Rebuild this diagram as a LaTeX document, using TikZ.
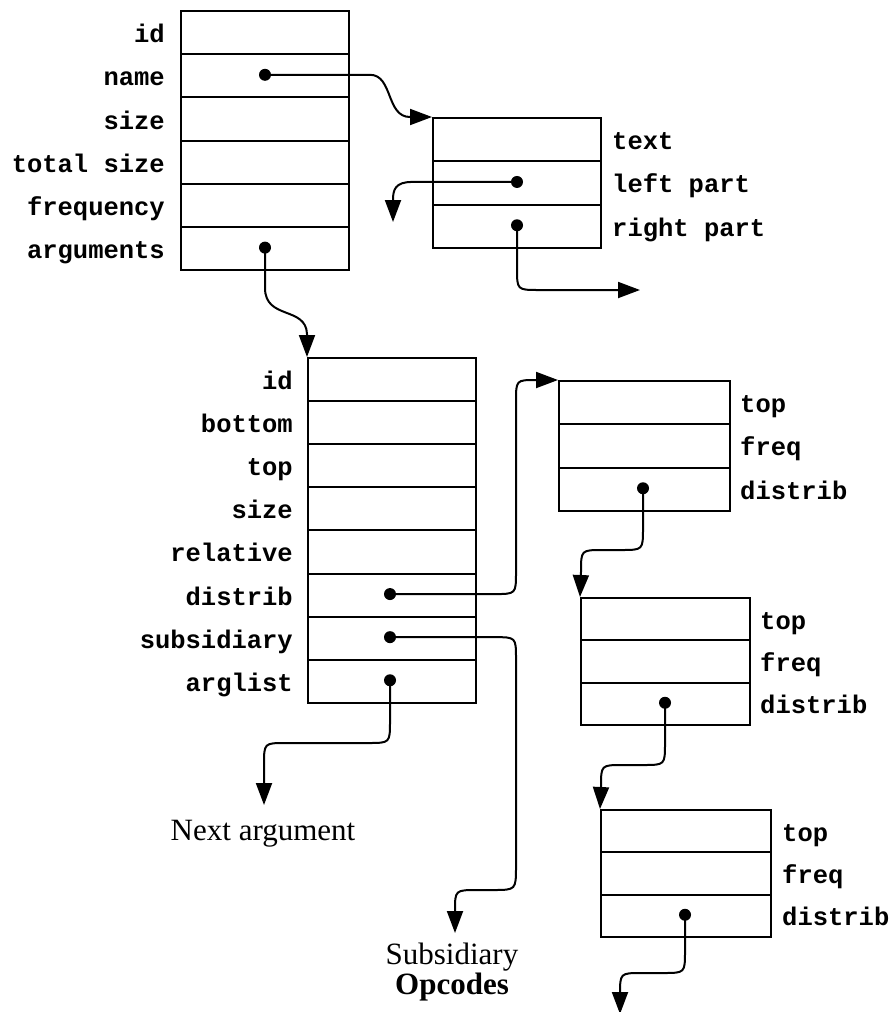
\documentclass[tikz,border=0pt]{standalone}
\usepackage{fontspec}
\setmainfont{Liberation Serif}
\newfontfamily\monof{Liberation Mono}
\usetikzlibrary{arrows.meta}
\begin{document}
\begin{tikzpicture}[x=1pt,y=-1pt,
  cell/.style={draw, line width=2pt, inner sep=0pt, anchor=north west},
  lab/.style={font=\monof\bfseries\fontsize{25.5}{25.5}\selectfont, inner sep=0pt},
  captxt/.style={font=\fontsize{31}{31}\selectfont, inner sep=0pt, anchor=base},
  dot/.style={circle, fill=black, inner sep=0pt, minimum size=12pt},
  conn/.style={line width=2pt, -{Triangle[length=22pt,width=16pt]}},
]
\useasboundingbox (0,0) rectangle (893,1012);

% Box A (top left)
\foreach \i/\t in {1/id,2/name,3/size,4/total size,5/frequency,6/arguments}{
  \node[cell, minimum width=168pt, minimum height=43.2pt] (a\i) at (180,{10+43.2*(\i-1)}) {};
  \node[lab, anchor=base east] (la\i) at (165,{10+43.2*(\i-0.5)+11}) {\t};
}
% Box B (name record)
\foreach \i/\t in {1/text,2/left part,3/right part}{
  \node[cell, minimum width=168pt, minimum height=43.3pt] (b\i) at (432,{117+43.3*(\i-1)}) {};
  \node[lab, anchor=base west] (lb\i) at (612,{117+43.3*(\i-0.5)+11}) {\t};
}
% Box C (argument record)
\foreach \i/\t in {1/id,2/bottom,3/top,4/size,5/relative,6/distrib,7/subsidiary,8/arglist}{
  \node[cell, minimum width=168pt, minimum height=43.1pt] (c\i) at (307,{357+43.1*(\i-1)}) {};
  \node[lab, anchor=base east] (lc\i) at (293,{357+43.1*(\i-0.5)+11}) {\t};
}
% Box D
\foreach \i/\t in {1/top,2/freq,3/distrib}{
  \node[cell, minimum width=171pt, minimum height=43.3pt] (d\i) at (558,{380+43.3*(\i-1)}) {};
  \node[lab, anchor=base west] (ld\i) at (740,{380+43.3*(\i-0.5)+11}) {\t};
}
% Box E
\foreach \i/\t in {1/top,2/freq,3/distrib}{
  \node[cell, minimum width=169pt, minimum height=42.3pt] (e\i) at (580,{597+42.3*(\i-1)}) {};
  \node[lab, anchor=base west] (le\i) at (760,{597+42.3*(\i-0.5)+11}) {\t};
}
% Box F
\foreach \i/\t in {1/top,2/freq,3/distrib}{
  \node[cell, minimum width=170pt, minimum height=42.3pt] (f\i) at (600,{809+42.3*(\i-1)}) {};
  \node[lab, anchor=base west] (lf\i) at (782,{809+42.3*(\i-0.5)+11}) {\t};
}

% dots
\node[dot] (pname) at (265,74.8) {};
\node[dot] (pargs) at (265,247.6) {};
\node[dot] (pleft) at (517,181.95) {};
\node[dot] (pright) at (517,225.25) {};
\node[dot] (pdist) at (390,594.05) {};
\node[dot] (psub) at (390,637.15) {};
\node[dot] (parg) at (390,680.25) {};
\node[dot] (pd) at (643,488.25) {};
\node[dot] (pe) at (665,702.75) {};
\node[dot] (pf) at (685,914.75) {};

% free ends
\coordinate (leftend) at (393,222);
\coordinate (rightend) at (640,290);
\coordinate (nextend) at (264,805);
\coordinate (subend) at (455,933);
\coordinate (fend) at (620,1014);

% captions
\node[captxt] (nexttxt) at (263,840) {Next argument};
\node[captxt] (subtxt1) at (452,964) {Subsidiary};
\node[captxt] (subtxt2) at (452,994) {\textbf{Opcodes}};

% connectors
\draw[conn] (pname.center) -- (370,74.8) .. controls (393,74.8) and (386,117) .. (410,117) -- (b1.north west);
\draw[conn] (pleft.center) -- (412,181.95) .. controls (395,181.95) and (393,190) .. (393,200) -- (leftend);
\draw[conn] (pright.center) -- (517,268) .. controls (517,290) .. (539,290) -- (rightend);
\draw[conn] (pargs.center) -- (265,288) .. controls (265,320) and (306,306) .. (307,334) -- (c1.north west);
\draw[conn] (pdist.center) -- (494,594.05) .. controls (516,594.05) .. (516,572) -- (516,402) .. controls (516,380) .. (536,380) -- (d1.north west);
\draw[conn] (psub.center) -- (494,637.15) .. controls (516,637.15) .. (516,659) -- (516,866) .. controls (516,890) .. (493,890) -- (478,890) .. controls (455,890) .. (455,911) -- (subend);
\draw[conn] (parg.center) -- (390,721) .. controls (390,743) .. (368,743) -- (286,743) .. controls (264,743) .. (264,765) -- (nextend);
\draw[conn] (pd.center) -- (643,528) .. controls (643,550) .. (621,550) -- (603,550) .. controls (581,550) .. (581,572) -- (e1.north west);
\draw[conn] (pe.center) -- (665,743) .. controls (665,765) .. (643,765) -- (623,765) .. controls (601,765) .. (601,787) -- (f1.north west);
\draw[conn] (pf.center) -- (685,951) .. controls (685,973) .. (663,973) -- (642,973) .. controls (620,973) .. (620,995) -- (fend);
\end{tikzpicture}
\end{document}
